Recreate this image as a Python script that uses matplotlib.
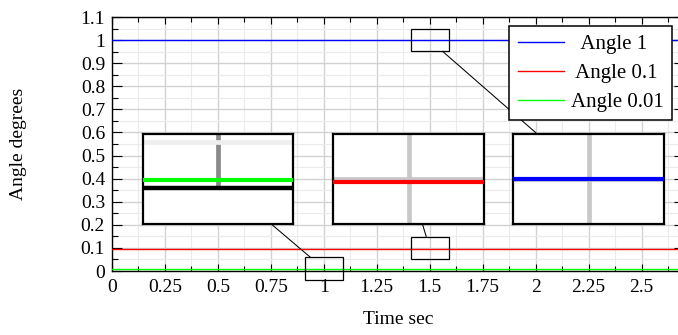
import numpy as np
import matplotlib
matplotlib.use("Agg")
import matplotlib.pyplot as plt
from matplotlib.ticker import FixedLocator, FixedFormatter, MultipleLocator
from matplotlib.patches import Rectangle

# ---------------- data ----------------
time = [0.0, 2.7]
angle_1 = [1.0, 1.0]
angle_01 = [0.097, 0.097]
angle_001 = [0.0085, 0.0085]
series = [angle_1, angle_01, angle_001]
labels = ["Angle 1", "Angle 0.1", "Angle 0.01"]
colors = ["#0000ff", "#ff0000", "#00ff00"]

xticks = [0, 0.25, 0.5, 0.75, 1, 1.25, 1.5, 1.75, 2, 2.25, 2.5]
xtick_labels = ["0", "0.25", "0.5", "0.75", "1", "1.25", "1.5", "1.75", "2", "2.25", "2.5"]
yticks = [0, 0.1, 0.2, 0.3, 0.4, 0.5, 0.6, 0.7, 0.8, 0.9, 1.0, 1.1]
ytick_labels = ["0", "0.1", "0.2", "0.3", "0.4", "0.5", "0.6", "0.7", "0.8", "0.9", "1", "1.1"]

# zoomed regions (centre in data coords) and their half sizes
spy_centers = [(1.0, 0.01), (1.5, 0.1), (1.5, 1.0)]
spy_half_w = 0.0889
spy_half_h = 0.0489

# ---------------- layout ----------------
plt.rcParams["font.family"] = ["Liberation Serif", "DejaVu Serif"]
plt.rcParams["font.size"] = 14
W, H = 678, 335
fig = plt.figure(figsize=(W / 100, H / 100), dpi=100)


def px(l, t, r, b):
    return [l / W, 1 - b / H, (r - l) / W, (b - t) / H]


x0_px, y_top, y_bot = 112, 17, 271
ppu = 211.8
ax = fig.add_axes(px(x0_px, y_top, x0_px + 2.7 * ppu, y_bot))
ax.set_xlim(0, 2.7)
ax.set_ylim(0, 1.1)

ax.xaxis.set_major_locator(FixedLocator(xticks))
ax.xaxis.set_major_formatter(FixedFormatter(xtick_labels))
ax.xaxis.set_minor_locator(MultipleLocator(0.125))
ax.yaxis.set_major_locator(FixedLocator(yticks))
ax.yaxis.set_major_formatter(FixedFormatter(ytick_labels))
ax.yaxis.set_minor_locator(MultipleLocator(0.05))

ax.grid(which="major", color="#d2d2d2", lw=1.0)
ax.grid(which="minor", color="#ebebeb", lw=0.8)
ax.set_axisbelow(True)

ax.tick_params(which="both", direction="in", top=True, right=True,
               color="black", width=0.8)
ax.tick_params(axis="x", which="major", length=5, pad=6)
ax.tick_params(axis="x", which="minor", length=3.5)
ax.tick_params(axis="y", which="major", length=7, pad=5)
ax.tick_params(axis="y", which="minor", length=4)
for s in ax.spines.values():
    s.set_linewidth(1.0)
    s.set_color("black")

handles = []
for y, c, lab in zip(series, colors, labels):
    (ln,) = ax.plot(time, y, color=c, lw=1.0, zorder=3, label=lab)
    handles.append(ln)

ax.set_xlabel("Time sec")
ax.xaxis.set_label_coords(0.5, -(320 - y_bot) / (y_bot - y_top))
ax.xaxis.label.set_va("center")
ax.set_ylabel("Angle degrees")
ax.yaxis.set_label_coords((19 - x0_px) / (2.7 * ppu), 0.5)
ax.yaxis.label.set_va("center")

pads = [2, 1, 0]
leg = ax.legend(handles, [" " * p + l for p, l in zip(pads, labels)],
                loc="upper right", bbox_to_anchor=(672 / W, 1 - 26 / H),
                bbox_transform=fig.transFigure, borderaxespad=0,
                frameon=True, fancybox=False, edgecolor="black",
                framealpha=1, handlelength=2.2, handletextpad=0.35,
                borderpad=0.4, labelspacing=0.45, fontsize=15)
leg.get_frame().set_linewidth(1.1)
leg.set_zorder(10)

# ---------------- spy insets ----------------
inset_px = [(142.7, 133.7, 293.3, 224.0),
            (333.3, 133.7, 484.0, 224.0),
            (513.3, 133.7, 664.0, 224.0)]

for k, ((cx, cy), (l, t, r, b)) in enumerate(zip(spy_centers, inset_px)):
    ins = fig.add_axes(px(l, t, r, b))
    ins.set_zorder(5)
    ins.set_facecolor("white")
    ins.set_xlim(cx - spy_half_w, cx + spy_half_w)
    ins.set_ylim(cy - spy_half_h, cy + spy_half_h)
    ins.set_xticks([])
    ins.set_yticks([])
    for s in ins.spines.values():
        s.set_linewidth(1.6)
        s.set_color("black")
    # zoomed grid lines
    for gx in xticks:
        if cx - spy_half_w < gx < cx + spy_half_w:
            ins.axvline(gx, color="#8a8a8a" if k == 0 else "#c8c8c8",
                        lw=3.4, zorder=1)
    for gy in np.arange(0, 1.15, 0.05):
        if cy - spy_half_h < gy < cy + spy_half_h:
            major = abs(gy * 10 - round(gy * 10)) < 1e-6
            ins.axhline(gy, color="#c8c8c8" if major else "#eeeeee",
                        lw=3.4, zorder=1)
    if k == 0:
        ins.axhspan(cy - 1, 0, color="white", zorder=2)
        ins.axhline(0, color="black", lw=3.2, zorder=2.5)
    for y, c in zip(series, colors):
        ins.plot(time, y, color=c, lw=3.0, zorder=3)

    # source rectangle
    ax.add_patch(Rectangle((cx - spy_half_w, cy - spy_half_h),
                           2 * spy_half_w, 2 * spy_half_h, fill=False,
                           ec="black", lw=0.9, clip_on=False, zorder=4))
    # connecting line from rectangle edge to inset centre
    p = ax.transData.inverted().transform(ins.transAxes.transform((0.5, 0.5)))
    dx, dy = p[0] - cx, p[1] - cy
    tt = min(spy_half_w / abs(dx) if dx else np.inf,
             spy_half_h / abs(dy) if dy else np.inf)
    ax.plot([cx + tt * dx, p[0]], [cy + tt * dy, p[1]], color="black",
            lw=0.75, clip_on=False, zorder=4)

fig.savefig("out.png", dpi=100)
